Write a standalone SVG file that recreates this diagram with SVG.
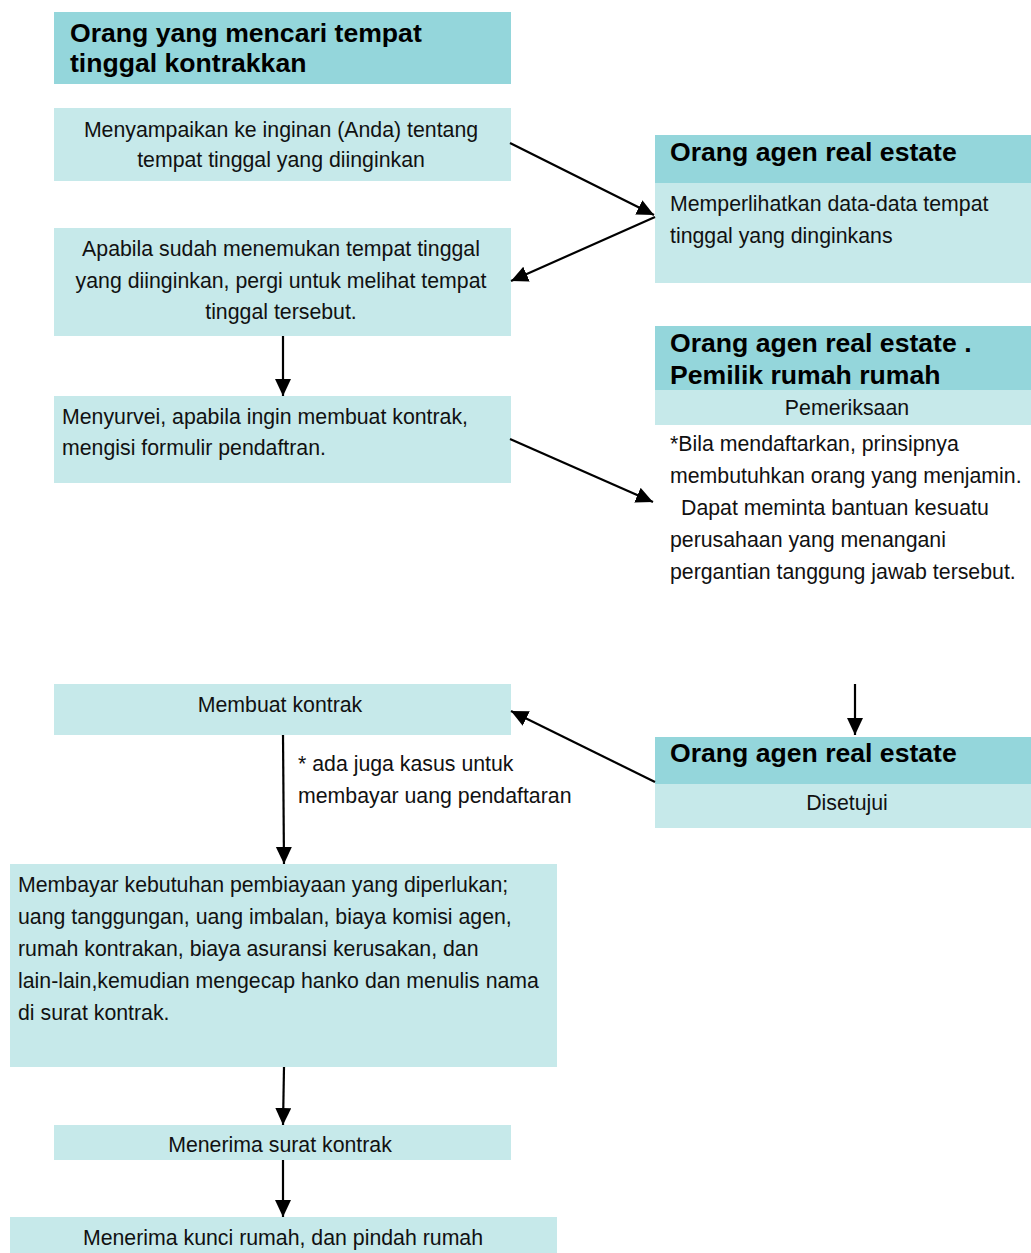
<svg xmlns="http://www.w3.org/2000/svg" width="1031" height="1253" viewBox="0 0 1031 1253">
  <style>
    .hd { fill: #94d6db; }
    .bx { fill: #c6e9ea; }
    .t { font-family: "Liberation Sans", Arial, sans-serif; font-size: 21.3px; fill: #111; }
    .c { text-anchor: middle; }
    .h { font-family: "Liberation Sans", Arial, sans-serif; font-size: 26.6px; font-weight: bold; fill: #000; }
    .ln { stroke: #000; stroke-width: 2.2; fill: none; marker-end: url(#arr); }
  </style>
  <defs>
    <marker id="arr" markerUnits="userSpaceOnUse" markerWidth="18" markerHeight="17" refX="17" refY="8" orient="auto">
      <path d="M0,0 L17,8 L0,16 z" fill="#000"/>
    </marker>
  </defs>
  <rect width="1031" height="1253" fill="#fff"/>

  <!-- left column: tenant -->
  <g id="tenant-header">
    <rect class="hd" x="54" y="12" width="457" height="72"/>
    <text class="h" x="70" y="42">Orang yang mencari tempat</text>
    <text class="h" x="70" y="72">tinggal kontrakkan</text>
  </g>
  <g id="step-request">
    <rect class="bx" x="54" y="108" width="457" height="73"/>
    <text class="t c" x="281" y="137">Menyampaikan ke inginan (Anda) tentang</text>
    <text class="t c" x="281" y="167">tempat tinggal yang diinginkan</text>
  </g>
  <g id="step-visit">
    <rect class="bx" x="54" y="228" width="457" height="108"/>
    <text class="t c" x="281" y="256">Apabila sudah menemukan tempat tinggal</text>
    <text class="t c" x="281" y="288">yang diinginkan, pergi untuk melihat tempat</text>
    <text class="t c" x="281" y="319">tinggal tersebut.</text>
  </g>
  <g id="step-survey">
    <rect class="bx" x="54" y="396" width="457" height="87"/>
    <text class="t" x="62" y="424">Menyurvei, apabila ingin membuat kontrak,</text>
    <text class="t" x="62" y="455">mengisi formulir pendaftran.</text>
  </g>

  <!-- right column: agent / owner -->
  <g id="agent-data">
    <rect class="hd" x="655" y="135" width="376" height="48"/>
    <rect class="bx" x="655" y="183" width="376" height="100"/>
    <text class="h" x="670" y="161">Orang agen real estate</text>
    <text class="t" x="670" y="211">Memperlihatkan data-data tempat</text>
    <text class="t" x="670" y="243">tinggal yang dinginkans</text>
  </g>
  <g id="agent-owner-check">
    <rect class="hd" x="655" y="326" width="376" height="64"/>
    <rect class="bx" x="655" y="390" width="376" height="35"/>
    <text class="h" x="670" y="352">Orang agen real estate .</text>
    <text class="h" x="670" y="384">Pemilik rumah rumah</text>
    <text class="t c" x="847" y="415">Pemeriksaan</text>
    <text class="t" x="670" y="451">*Bila mendaftarkan, prinsipnya</text>
    <text class="t" x="670" y="483">membutuhkan orang yang menjamin.</text>
    <text class="t" x="681" y="515">Dapat meminta bantuan kesuatu</text>
    <text class="t" x="670" y="547">perusahaan yang menangani</text>
    <text class="t" x="670" y="579">pergantian tanggung jawab tersebut.</text>
  </g>
  <g id="agent-approved">
    <rect class="hd" x="655" y="737" width="376" height="47"/>
    <rect class="bx" x="655" y="784" width="376" height="44"/>
    <text class="h" x="670" y="762">Orang agen real estate</text>
    <text class="t c" x="847" y="810">Disetujui</text>
  </g>

  <!-- contract steps -->
  <g id="step-contract">
    <rect class="bx" x="54" y="684" width="457" height="51"/>
    <text class="t c" x="280" y="712">Membuat kontrak</text>
  </g>
  <g id="note-fee">
    <text class="t" x="298" y="771">* ada juga kasus untuk</text>
    <text class="t" x="298" y="803">membayar uang pendaftaran</text>
  </g>
  <g id="step-payment">
    <rect class="bx" x="10" y="864" width="547" height="203"/>
    <text class="t" x="18" y="892">Membayar kebutuhan pembiayaan yang diperlukan;</text>
    <text class="t" x="18" y="924">uang tanggungan, uang imbalan, biaya komisi agen,</text>
    <text class="t" x="18" y="956">rumah kontrakan, biaya asuransi kerusakan, dan</text>
    <text class="t" x="18" y="988">lain-lain,kemudian mengecap hanko dan menulis nama</text>
    <text class="t" x="18" y="1020">di surat kontrak.</text>
  </g>
  <g id="step-receive-contract">
    <rect class="bx" x="54" y="1125" width="457" height="35"/>
    <text class="t c" x="280" y="1152">Menerima surat kontrak</text>
  </g>
  <g id="step-move-in">
    <rect class="bx" x="10" y="1217" width="547" height="36"/>
    <text class="t c" x="283" y="1245">Menerima kunci rumah, dan pindah rumah</text>
  </g>

  <!-- connectors -->
  <g id="connectors">
    <line class="ln" x1="510" y1="143" x2="654" y2="215"/>
    <line class="ln" x1="655" y1="217" x2="511" y2="281"/>
    <line class="ln" x1="283" y1="336" x2="283" y2="396"/>
    <line class="ln" x1="510" y1="439" x2="653" y2="502"/>
    <line class="ln" x1="855" y1="684" x2="855" y2="735"/>
    <line class="ln" x1="655" y1="782" x2="511" y2="711"/>
    <line class="ln" x1="283" y1="735" x2="284" y2="864"/>
    <line class="ln" x1="284" y1="1067" x2="283" y2="1125"/>
    <line class="ln" x1="283" y1="1160" x2="283" y2="1217"/>
  </g>
</svg>
